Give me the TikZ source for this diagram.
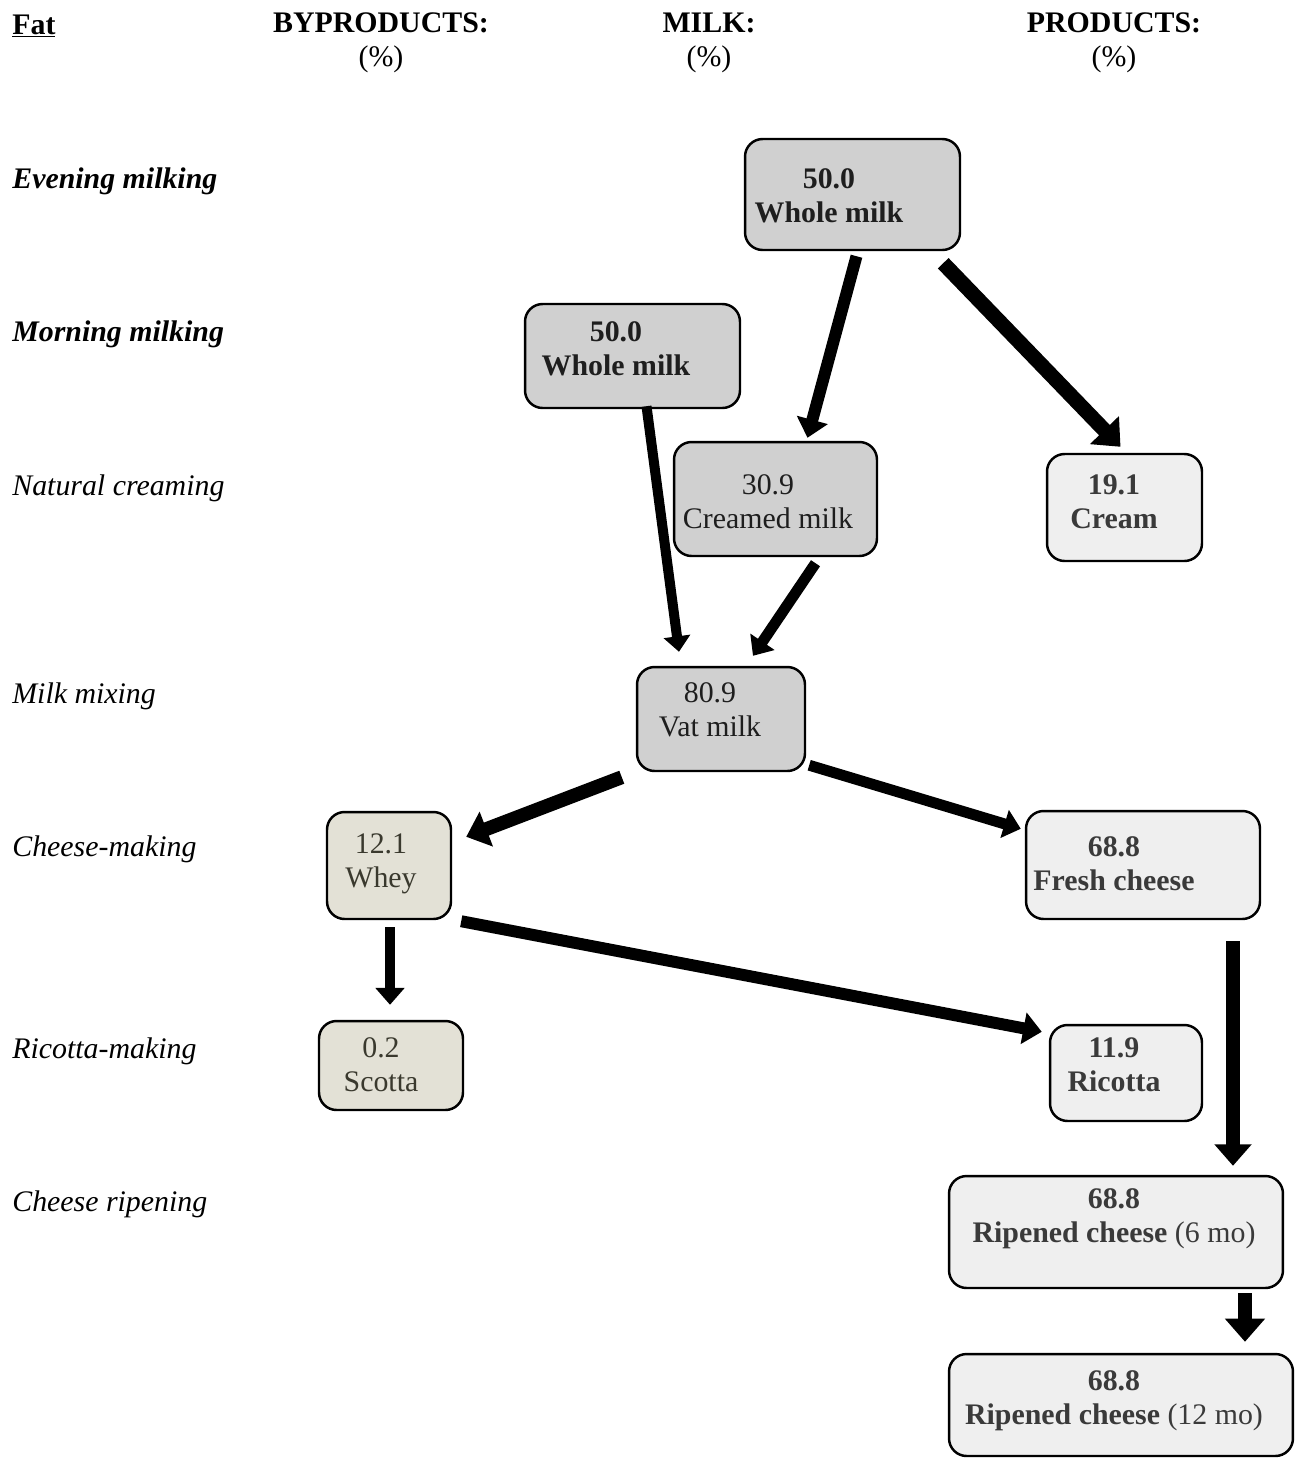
\documentclass[tikz,border=0pt]{standalone}
\usepackage{fontspec}
\setmainfont{Liberation Serif}
\usetikzlibrary{arrows.meta,calc}
\definecolor{milkgray}{HTML}{D0D0D0}
\definecolor{prodgray}{HTML}{EFEFEF}
\definecolor{byprod}{HTML}{E3E1D6}
\definecolor{milktext}{HTML}{1E1E1E}
\definecolor{prodtext}{HTML}{3A3A3A}
\definecolor{bytext}{HTML}{3A392E}

\begin{document}
\begin{tikzpicture}[x=0.02cm,y=-0.02cm,font=\fontsize{17}{19.5}\selectfont,
  bx/.style={rectangle,rounded corners=10pt,draw,line width=1.4pt,inner sep=0pt},
  milk/.style={bx,fill=milkgray},
  prod/.style={bx,fill=prodgray},
  byp/.style={bx,fill=byprod},
  txt/.style={align=center,inner sep=0pt},
  stage/.style={anchor=base west,inner sep=0pt,font=\fontsize{17}{19.5}\selectfont\itshape},
  ar/.style={line width=#1,-{Triangle[length=0pt 1.55,width=0pt 2.6]}}]
  \useasboundingbox (0,0) rectangle (1295,1458);
  % column heads
  \node[anchor=base west,inner sep=0pt,font=\fontsize{17}{19.5}\selectfont\bfseries] (fat) at (12,34) {\underline{Fat}};
  \node[txt] (hby) at (381,43) {\textbf{BYPRODUCTS:}\\(\%)};
  \node[txt] (hmilk) at (709,43) {\textbf{MILK:}\\(\%)};
  \node[txt] (hprod) at (1114,43) {\textbf{PRODUCTS:}\\(\%)};
  % stages
  \node[stage,font=\fontsize{17}{19.5}\selectfont\bfseries\itshape] (s1) at (12,188) {Evening milking};
  \node[stage,font=\fontsize{17}{19.5}\selectfont\bfseries\itshape] (s2) at (12,341) {Morning milking};
  \node[stage] (s3) at (12,495) {Natural creaming};
  \node[stage] (s4) at (12,703) {Milk mixing};
  \node[stage] (s5) at (12,856) {Cheese-making};
  \node[stage] (s6) at (12,1058) {Ricotta-making};
  \node[stage] (s7) at (12,1211) {Cheese ripening};
  % boxes
  \node[milk,minimum width=4.30cm,minimum height=2.22cm] (ev) at (852.5,194.5) {};
  \node[milk,minimum width=4.30cm,minimum height=2.08cm] (mo) at (632.5,356) {};
  \node[milk,minimum width=4.06cm,minimum height=2.28cm] (cr) at (775.5,499) {};
  \node[prod,minimum width=3.10cm,minimum height=2.14cm] (cream) at (1124.5,507.5) {};
  \node[milk,minimum width=3.36cm,minimum height=2.08cm] (vat) at (721,719) {};
  \node[byp,minimum width=2.48cm,minimum height=2.14cm] (whey) at (389,865.5) {};
  \node[prod,minimum width=4.68cm,minimum height=2.16cm] (fresh) at (1143,865) {};
  \node[byp,minimum width=2.88cm,minimum height=1.78cm] (scotta) at (391,1065.5) {};
  \node[prod,minimum width=3.04cm,minimum height=1.92cm] (ricotta) at (1126,1073) {};
  \node[prod,minimum width=6.68cm,minimum height=2.24cm] (rip6) at (1116,1232) {};
  \node[prod,minimum width=6.88cm,minimum height=2.04cm] (rip12) at (1121,1405) {};
  % box texts
  \node[txt,text=milktext,font=\fontsize{17}{19.5}\selectfont\bfseries] (evt) at (829,196) {50.0\\Whole milk};
  \node[txt,text=milktext,font=\fontsize{17}{19.5}\selectfont\bfseries] (mot) at (616,349) {50.0\\Whole milk};
  \node[txt,text=milktext] (crt) at (768,502) {30.9\\Creamed milk};
  \node[txt,text=prodtext,font=\fontsize{17}{19.5}\selectfont\bfseries] (creamt) at (1114,502) {19.1\\Cream};
  \node[txt,text=milktext] (vatt) at (710,710) {80.9\\Vat milk};
  \node[txt,text=bytext] (wheyt) at (381,864) {12.1\\Whey};
  \node[txt,text=prodtext,font=\fontsize{17}{19.5}\selectfont\bfseries] (fresht) at (1114,864) {68.8\\Fresh cheese};
  \node[txt,text=bytext] (scottat) at (381,1065) {0.2\\Scotta};
  \node[txt,text=prodtext,font=\fontsize{17}{19.5}\selectfont\bfseries] (ricottat) at (1114,1065) {11.9\\Ricotta};
  \node[txt,text=prodtext] (rip6t) at (1114,1219) {\textbf{68.8}\\\textbf{Ripened cheese} (6 mo)};
  \node[txt,text=prodtext] (rip12t) at (1114,1401) {\textbf{68.8}\\\textbf{Ripened cheese} (12 mo)};
  % flows
  \draw[ar=6.8pt] ($(ev.south)+(4,5)$) -- ($(cr.north)+(32,-3)$);
  \draw[ar=8.5pt] ($(ev.south east)+(-18,12)$) -- ($(cream.north)+(-4,-6)$);
  \draw[ar=5.7pt] ($(mo.south)+(14,-3)$) -- ($(vat.north)+(-42,-14)$);
  \draw[ar=6.2pt] ($(cr.south)+(40,6)$) -- ($(vat.north)+(32,-10)$);
  \draw[ar=7.9pt] ($(vat.south west)+(-14,5)$) -- ($(whey.north east)+(14,26)$);
  \draw[ar=6.2pt] ($(vat.south east)+(3,-7)$) -- ($(fresh.north west)+(-4,19)$);
  \draw[ar=6.2pt] ($(whey.south)+(1,7)$) -- ($(scotta.north)+(-1,-15)$);
  \draw[ar=6.8pt] ($(whey.south east)+(9,1)$) -- ($(ricotta.north west)+(-7,8)$);
  \draw[ar=7.9pt] ($(fresh.south)+(90,21)$) -- ($(rip6.north)+(117,-9)$);
  \draw[ar=8.5pt] ($(rip6.south)+(129,4)$) -- ($(rip12.north)+(124,-11)$);
\end{tikzpicture}
\end{document}
